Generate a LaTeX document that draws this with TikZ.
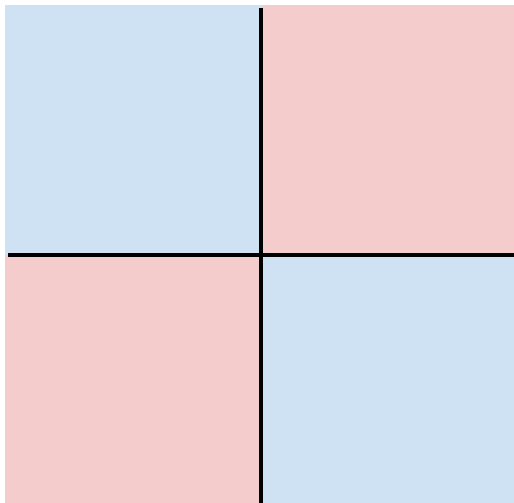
\documentclass[tikz,border=0pt]{standalone}
\definecolor{qblue}{RGB}{207,226,243}
\definecolor{qpink}{RGB}{244,204,204}
\tikzset{quad/.style={draw=none},axisline/.style={line width=3.5pt,black}}
\begin{document}
\begin{tikzpicture}[x=1pt,y=-1pt]
\useasboundingbox (0,0) rectangle (514,503);
\fill[qblue,quad] (5,5) rectangle (261,255);
\fill[qpink,quad] (261,5) rectangle (514,255);
\fill[qpink,quad] (5,255) rectangle (261,503);
\fill[qblue,quad] (261,255) rectangle (514,503);
\coordinate (vt) at (261,8);
\coordinate (vb) at (261,503);
\coordinate (hl) at (8,255);
\coordinate (hr) at (514,255);
\draw[axisline] (vt) -- (vb);
\draw[axisline] (hl) -- (hr);
\end{tikzpicture}
\end{document}
